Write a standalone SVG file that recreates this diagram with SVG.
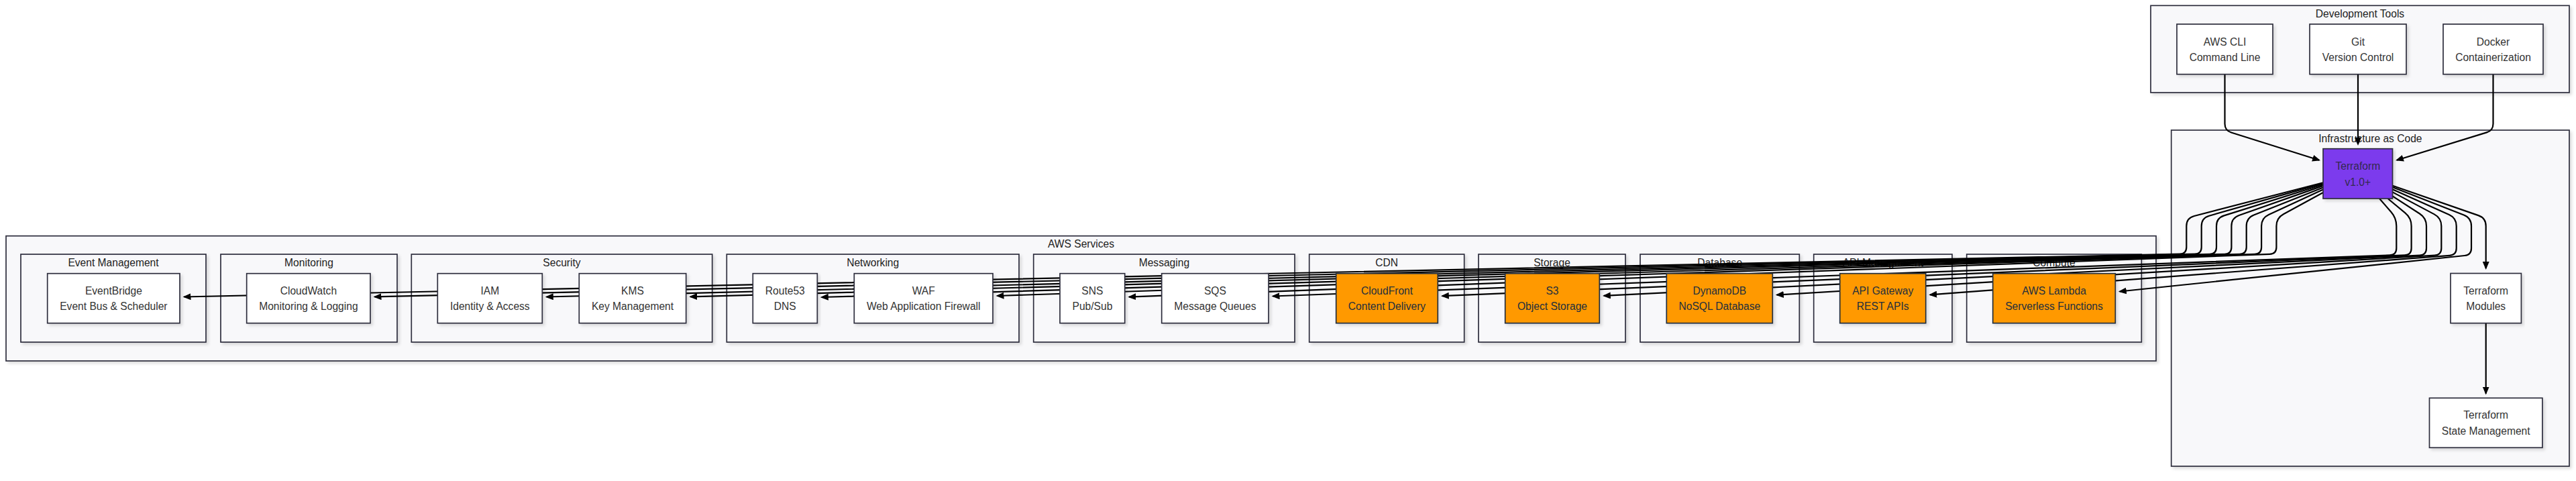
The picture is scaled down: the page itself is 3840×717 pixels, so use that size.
<svg xmlns="http://www.w3.org/2000/svg" width="3840" height="717" viewBox="0 0 3840 717">
<defs>
<filter id="sh" x="-5%" y="-5%" width="110%" height="115%">
<feDropShadow dx="3" dy="3" stdDeviation="2" flood-color="#000" flood-opacity="0.13"/>
</filter>
<marker id="arr" viewBox="0 0 12 10" refX="10" refY="5" markerWidth="12" markerHeight="10" markerUnits="userSpaceOnUse" orient="auto">
<path d="M0,0 L12,5 L0,10 z" fill="#000"/>
</marker>
<style>
.cl rect{fill:#f8f8fa;stroke:#2e2e3e;stroke-width:1.7;filter:url(#sh)}
.cl text{font-family:"Liberation Sans",Arial,sans-serif;font-size:15.6px;fill:#222;text-anchor:middle}
.nd rect{fill:#fff;stroke:#2e2e3e;stroke-width:1.7;filter:url(#sh)}
.nd text{font-family:"Liberation Sans",Arial,sans-serif;font-size:15.6px;fill:#333;text-anchor:middle}
.aws rect{fill:#ff9900;stroke:#232f3e}
.aws text{fill:#232f3e}
.tf rect{fill:#7c3aed;stroke:#2e2e3e}
.tf text{fill:#33294d}
#edges path{fill:none;stroke:#000;stroke-width:2.2;marker-end:url(#arr)}
</style>
</defs>
<rect width="3840" height="717" fill="#fff"/>

<g id="clusters">
<g id="c-aws" class="cl"><rect x="9" y="351.7" width="3205" height="186.3"/><text x="1611.5" y="369.3">AWS Services</text></g>
<g id="c-dev" class="cl"><rect x="3206" y="8.3" width="624" height="129.7"/><text x="3518" y="26">Development Tools</text></g>
<g id="c-iac" class="cl"><rect x="3236.7" y="194" width="593.3" height="501"/><text x="3533.4" y="211.7">Infrastructure as Code</text></g>
<g id="c-event" class="cl"><rect x="31" y="379" width="276" height="131"/><text x="169" y="397.3">Event Management</text></g>
<g id="c-mon" class="cl"><rect x="329" y="379" width="263" height="131"/><text x="460.5" y="397.3">Monitoring</text></g>
<g id="c-sec" class="cl"><rect x="613.3" y="379" width="448.4" height="131"/><text x="837.5" y="397.3">Security</text></g>
<g id="c-net" class="cl"><rect x="1083.3" y="379" width="435.7" height="131"/><text x="1301.2" y="397.3">Networking</text></g>
<g id="c-msg" class="cl"><rect x="1540.7" y="379" width="389.3" height="131"/><text x="1735.4" y="397.3">Messaging</text></g>
<g id="c-cdn" class="cl"><rect x="1951.7" y="379" width="231" height="131"/><text x="2067.2" y="397.3">CDN</text></g>
<g id="c-sto" class="cl"><rect x="2204" y="379" width="219" height="131"/><text x="2313.5" y="397.3">Storage</text></g>
<g id="c-db" class="cl"><rect x="2445" y="379" width="237.3" height="131"/><text x="2563.7" y="397.3">Database</text></g>
<g id="c-api" class="cl"><rect x="2703.7" y="379" width="206.3" height="131"/><text x="2806.9" y="397.3">API Management</text></g>
<g id="c-cmp" class="cl"><rect x="2931.7" y="379" width="260.6" height="131"/><text x="3062" y="397.3">Compute</text></g>
</g>

<g id="edges">
<path d="M3316.5,110.7 L3316.5,184.5 Q3316.5,194.5 3326,197.5 L3457.1,238.7"/>
<path d="M3515,110.7 L3515,215"/>
<path d="M3716.5,110.7 L3716.5,184.5 Q3716.5,194.5 3707,197.4 L3572.9,238.7"/>
<path d="M3463,272.2 L3270.9,322 Q3259.3,325 3259.3,337 L3259.3,368.5 Q3259.3,378.5 3249.3,378.7 L274.5,442.5"/>
<path d="M3463,273.4 L3293.2,321.7 Q3281.7,325 3281.7,337 L3281.7,368.5 Q3281.7,378.5 3271.7,378.7 L558.5,442.4"/>
<path d="M3463,275 L3315.4,321.4 Q3304,325 3304,337 L3304,368.5 Q3304,378.5 3294,378.8 L814.8,442.5"/>
<path d="M3463,276.9 L3337.7,321 Q3326.4,325 3326.4,337 L3326.4,368.5 Q3326.4,378.5 3316.4,378.8 L1029.2,442.3"/>
<path d="M3463,279.4 L3359.8,320.6 Q3348.7,325 3348.7,337 L3348.7,368.5 Q3348.7,378.5 3338.7,378.8 L1224.8,443"/>
<path d="M3463,282.6 L3382,320 Q3371.1,325 3371.1,337 L3371.1,368.5 Q3371.1,378.5 3361.1,378.8 L1486.5,441"/>
<path d="M3463,287 L3403.9,319.3 Q3393.4,325 3393.4,337 L3393.4,368.5 Q3393.4,378.5 3383.4,378.9 L1683.2,442.6"/>
<path d="M3547,296 L3564.4,316 Q3572.3,325 3572.3,337 L3572.3,370 Q3572.3,380 3562.3,380.4 L1897.5,441.5"/>
<path d="M3559.5,296 L3585.3,317.4 Q3594.6,325 3594.6,337 L3594.6,370 Q3594.6,380 3584.6,380.4 L2149.8,441.2"/>
<path d="M3566.5,292.4 L3606.9,318.5 Q3617,325 3617,337 L3617,370 Q3617,380 3607,380.5 L2390.8,440.9"/>
<path d="M3566.5,286.4 L3628.7,319.4 Q3639.3,325 3639.3,337 L3639.3,370 Q3639.3,380 3629.3,380.6 L2648.8,439.6"/>
<path d="M3566.5,282.2 L3650.8,320.1 Q3661.7,325 3661.7,337 L3661.7,370 Q3661.7,380 3651.7,380.8 L2877.2,439.4"/>
<path d="M3566.5,279.1 L3672.8,320.6 Q3684,325 3684,337 L3684,370 Q3684,380 3674,381 L3159.8,434.5"/>
<path d="M3566.5,276.8 L3694.4,321.1 Q3705.7,325 3705.7,337 L3705.7,400"/>
<path d="M3705.7,481.7 L3705.7,586.5"/>
</g>

<g id="nodes">
<g id="n-eventbridge" class="nd"><rect x="70.7" y="407.7" width="197.3" height="74"/><text x="169.4" y="438.7">EventBridge</text><text x="169.4" y="462.3">Event Bus &amp; Scheduler</text></g>
<g id="n-cloudwatch" class="nd"><rect x="367.7" y="407.7" width="184.3" height="74"/><text x="459.9" y="438.7">CloudWatch</text><text x="459.9" y="462.3">Monitoring &amp; Logging</text></g>
<g id="n-iam" class="nd"><rect x="652.3" y="407.7" width="156" height="74"/><text x="730.3" y="438.7">IAM</text><text x="730.3" y="462.3">Identity &amp; Access</text></g>
<g id="n-kms" class="nd"><rect x="863.3" y="407.7" width="159.4" height="74"/><text x="943" y="438.7">KMS</text><text x="943" y="462.3">Key Management</text></g>
<g id="n-route53" class="nd"><rect x="1122.3" y="407.7" width="96" height="74"/><text x="1170.3" y="438.7">Route53</text><text x="1170.3" y="462.3">DNS</text></g>
<g id="n-waf" class="nd"><rect x="1273.3" y="407.7" width="206.7" height="74"/><text x="1376.7" y="438.7">WAF</text><text x="1376.7" y="462.3">Web Application Firewall</text></g>
<g id="n-sns" class="nd"><rect x="1580" y="407.7" width="96.7" height="74"/><text x="1628.4" y="438.7">SNS</text><text x="1628.4" y="462.3">Pub/Sub</text></g>
<g id="n-sqs" class="nd"><rect x="1731.7" y="407.7" width="159.3" height="74"/><text x="1811.4" y="438.7">SQS</text><text x="1811.4" y="462.3">Message Queues</text></g>
<g id="n-cloudfront" class="nd aws"><rect x="1991.7" y="407.7" width="151.6" height="74"/><text x="2067.5" y="438.7">CloudFront</text><text x="2067.5" y="462.3">Content Delivery</text></g>
<g id="n-s3" class="nd aws"><rect x="2243.7" y="407.7" width="140.6" height="74"/><text x="2314" y="438.7">S3</text><text x="2314" y="462.3">Object Storage</text></g>
<g id="n-dynamodb" class="nd aws"><rect x="2484.3" y="407.7" width="158" height="74"/><text x="2563.3" y="438.7">DynamoDB</text><text x="2563.3" y="462.3">NoSQL Database</text></g>
<g id="n-apigw" class="nd aws"><rect x="2742.7" y="407.7" width="128" height="74"/><text x="2806.7" y="438.7">API Gateway</text><text x="2806.7" y="462.3">REST APIs</text></g>
<g id="n-lambda" class="nd aws"><rect x="2970.7" y="407.7" width="182.6" height="74"/><text x="3062" y="438.7">AWS Lambda</text><text x="3062" y="462.3">Serverless Functions</text></g>
<g id="n-awscli" class="nd"><rect x="3245" y="36" width="143" height="74.7"/><text x="3316.5" y="67.5">AWS CLI</text><text x="3316.5" y="91.1">Command Line</text></g>
<g id="n-git" class="nd"><rect x="3443" y="36" width="144" height="74.7"/><text x="3515" y="67.5">Git</text><text x="3515" y="91.1">Version Control</text></g>
<g id="n-docker" class="nd"><rect x="3642" y="36" width="149" height="74.7"/><text x="3716.5" y="67.5">Docker</text><text x="3716.5" y="91.1">Containerization</text></g>
<g id="n-terraform" class="nd tf"><rect x="3463" y="221.7" width="103.5" height="74.3"/><text x="3514.8" y="252.9">Terraform</text><text x="3514.8" y="276.5">v1.0+</text></g>
<g id="n-modules" class="nd"><rect x="3653" y="407.5" width="105.4" height="74.2"/><text x="3705.7" y="438.7">Terraform</text><text x="3705.7" y="462.3">Modules</text></g>
<g id="n-state" class="nd"><rect x="3621.5" y="593.3" width="168.4" height="74"/><text x="3705.7" y="624.3">Terraform</text><text x="3705.7" y="647.9">State Management</text></g>
</g>
</svg>
